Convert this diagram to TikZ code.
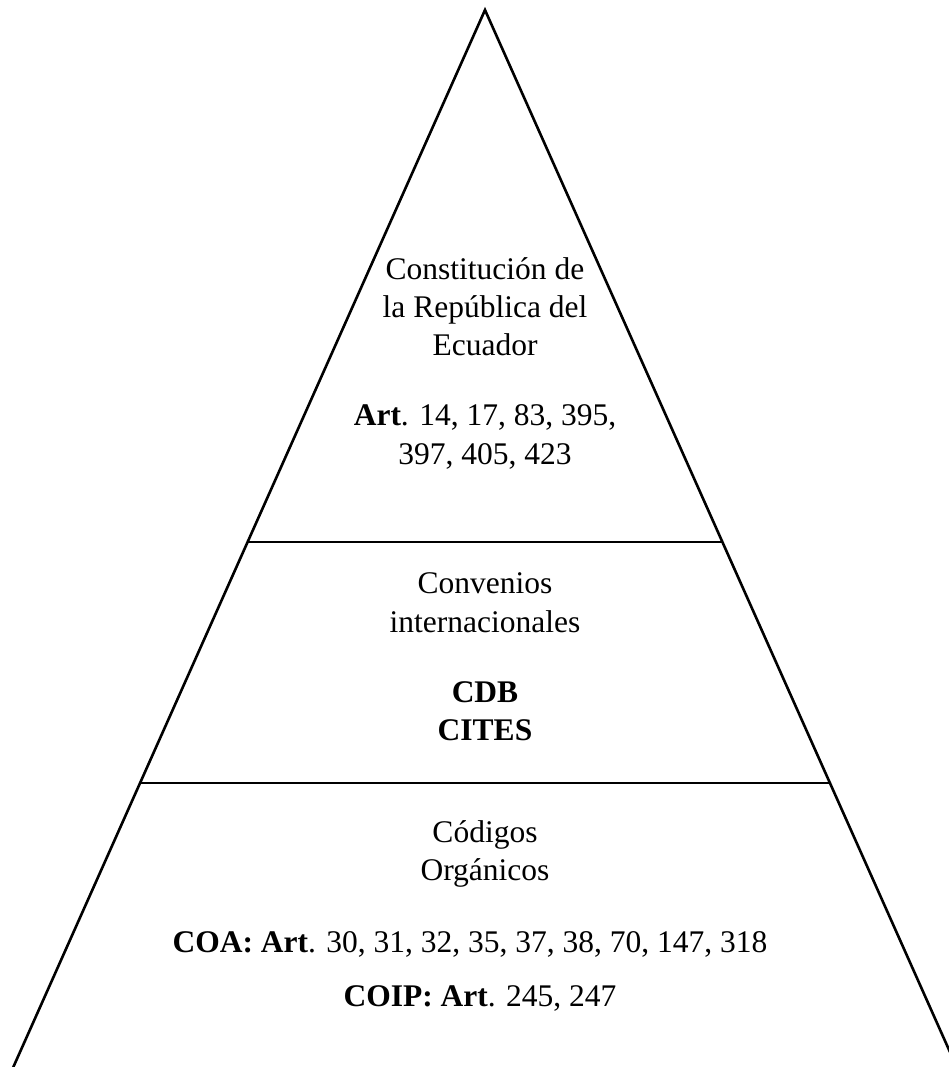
\documentclass[tikz,border=0pt]{standalone}
\usepackage{fontspec}
\setmainfont{Liberation Serif}
\begin{document}
\begin{tikzpicture}[
  x=1pt, y=-1pt,
  side/.style={line width=2.6pt},
  txt/.style={anchor=base, inner sep=0pt, font=\fontsize{31.5}{38}\selectfont}
]
\useasboundingbox (0,0) rectangle (948,1067);
\coordinate (apex) at (485,10);
\coordinate (bl) at (12,1070);
\coordinate (br) at (958,1070);
\coordinate (upl) at (247.6,542);
\coordinate (upr) at (722.4,542);
\coordinate (lol) at (140.1,783);
\coordinate (lor) at (829.9,783);
\draw[side, line join=miter] (bl) -- (apex) -- (br);
\draw[side] (upl) -- (upr);
\draw[side] (lol) -- (lor);
% top level
\node[txt] (cre1) at (485,279) {Constitución de};
\node[txt] (cre2) at (485,317) {la República del};
\node[txt] (cre3) at (485,355) {Ecuador};
\node[txt] (art1) at (485,425) {\textbf{Art}. 14, 17, 83, 395,};
\node[txt] (art2) at (485,464) {397, 405, 423};
% middle level
\node[txt] (conv1) at (485,593) {Convenios};
\node[txt] (conv2) at (485,632) {internacionales};
\node[txt] (cdb) at (485,702) {\textbf{CDB}};
\node[txt] (cites) at (485,740) {\textbf{CITES}};
% bottom level
\node[txt] (cod1) at (485,842) {Códigos};
\node[txt] (cod2) at (485,880) {Orgánicos};
\node[txt] (coa) at (470,952) {\textbf{COA: Art}. 30, 31, 32, 35, 37, 38, 70, 147, 318};
\node[txt] (coip) at (480,1006) {\textbf{COIP: Art}. 245, 247};
\end{tikzpicture}
\end{document}
